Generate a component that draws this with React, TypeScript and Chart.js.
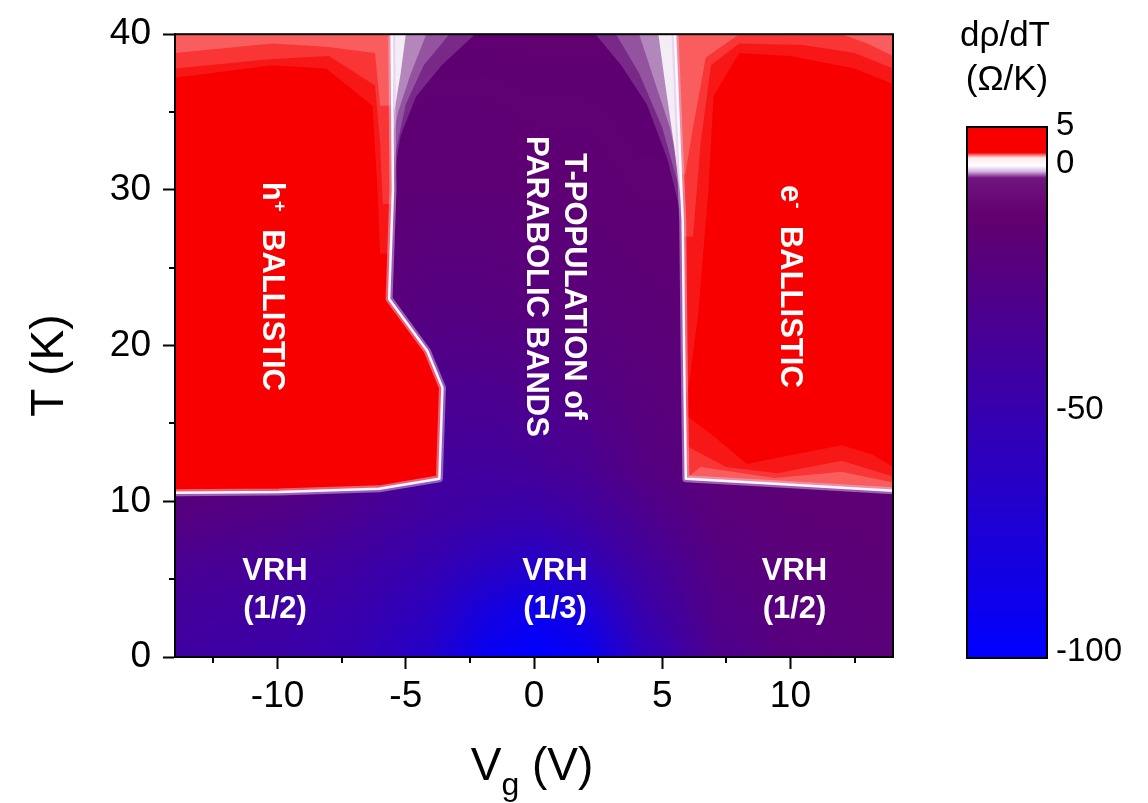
import React, { useEffect, useRef } from 'react';
import { Chart, registerables } from 'chart.js';

Chart.register(...registerables);

const FONT = "'Liberation Sans', Arial, Helvetica, sans-serif";

// ---------- axes ----------
const vgMin = -14;
const vgMax = 14;
const tMin = 0;
const tMax = 40;
const xMajorTicks = [-10, -5, 0, 5, 10];
const xMinorTicks = [-12.5, -7.5, -2.5, 2.5, 7.5, 12.5];
const yMajorTicks = [0, 10, 20, 30, 40];
const yMinorTicks = [5, 15, 25, 35];

// ---------- colour scale (dρ/dT, Ω/K) ----------
const colorbarTicks = [5, 0, -50, -100];
const cmapValues = [5, 1.7, 1.0, 0, -1.2, -2.5, -10, -100];
const cmapColors = [
  [248, 0, 0], [248, 0, 0], [255, 232, 238], [255, 255, 255],
  [214, 178, 226], [112, 20, 128], [98, 0, 110], [0, 0, 255],
];

// ---------- background dρ/dT field (negative region) ----------
const vgNodes = [-14, -10, -7, -4, -2, 0, 2, 4, 7, 10, 14];
const tNodes = [0, 3, 6, 9, 12, 16, 22, 30, 40];
const dRhoDT = [
  [-42, -45, -52, -68, -92, -100, -94, -62, -30, -20, -17],
  [-38, -42, -48, -60, -78, -90, -78, -50, -26, -19, -16],
  [-32, -36, -42, -51, -60, -66, -56, -41, -23, -17, -15],
  [-22, -26, -34, -42, -46, -48, -42, -32, -19, -15, -14],
  [-16, -18, -26, -38, -40, -38, -33, -24, -16, -14, -14],
  [-14, -15, -20, -32, -33, -30, -26, -20, -15, -14, -14],
  [-13, -13, -16, -22, -22, -20, -18, -16, -14, -13, -13],
  [-12, -12, -13, -15, -15, -14, -14, -13, -13, -12, -12],
  [-12, -12, -12, -12, -12, -12, -12, -12, -12, -12, -12],
];

// ---------- positive (ballistic) regions, [Vg, T] ----------
const leftBallistic = [[-14, 40], [-5.55, 40], [-5.5, 30], [-5.65, 23], [-4.16, 19.65], [-3.57, 17.3], [-3.69, 11.45], [-6.04, 10.8], [-9.96, 10.6], [-14, 10.55]];
const rightBallistic = [[5.5, 40], [14, 40], [14, 10.68], [9.37, 11.13], [5.92, 11.45], [5.85, 20], [5.8, 28], [5.65, 34]];
const leftBoundary = [[-5.55, 40], [-5.5, 30], [-5.65, 23], [-4.16, 19.65], [-3.57, 17.3], [-3.69, 11.45], [-6.04, 10.8], [-9.96, 10.6], [-14, 10.55]];
const rightBoundary = [[5.5, 40], [5.65, 34], [5.8, 28], [5.85, 20], [5.92, 11.45], [9.37, 11.13], [14, 10.68]];

// near-zero contour levels on the negative side (top centre)
const fadeLeft = [
  [[-5.55, 40], [-2.3, 40], [-3.6, 38], [-4.6, 36], [-5.2, 33.5], [-5.5, 30.5]],
  [[-5.55, 40], [-3.3, 40], [-4.3, 38], [-5.0, 35.5], [-5.45, 32]],
  [[-5.55, 40], [-4.2, 40], [-4.8, 37.5], [-5.3, 35], [-5.5, 33.5]],
  [[-5.55, 40], [-5.0, 40], [-5.2, 37.5], [-5.45, 35]],
];
const fadeRight = [
  [[2.4, 40], [5.5, 40], [5.65, 34], [5.8, 28], [5.2, 32], [4.4, 35.5], [3.4, 38]],
  [[3.2, 40], [5.5, 40], [5.65, 34], [5.77, 29.5], [5.0, 34], [4.1, 37.5]],
  [[4.1, 40], [5.5, 40], [5.65, 34], [5.76, 30.5], [5.3, 34], [4.7, 37]],
  [[4.85, 40], [5.5, 40], [5.65, 34], [5.79, 28.5], [5.45, 33], [5.1, 37]],
];

// lower positive contour levels inside the red regions
const bandsLeft = [
  [[-14, 40], [-5.55, 40], [-5.5, 30], [-5.6, 25.9], [-6.0, 25.9], [-6.1, 30], [-6.3, 35.4], [-8.1, 37.8], [-10.2, 38.0], [-14, 37.2]],
  [[-14, 40], [-5.55, 40], [-5.5, 29.1], [-5.9, 29.1], [-6.0, 33], [-6.2, 36.7], [-8.0, 38.6], [-10.2, 38.4], [-14, 37.8]],
  [[-14, 40], [-5.55, 40], [-5.52, 35.4], [-6.0, 35.4], [-6.2, 38.8], [-8.1, 39.2], [-10.2, 39.4], [-14, 38.8]],
];
const bandsRight = [
  [[5.5, 40], [14, 40], [14, 36.8], [12.5, 37.8], [10, 38.6], [8, 38.8], [7.0, 36], [6.8, 30], [6.4, 22], [6.0, 17], [5.87, 17], [5.85, 20], [5.8, 28], [5.65, 34]],
  [[5.5, 40], [14, 40], [14, 37.8], [12.5, 38.8], [10.5, 39.3], [8, 39.4], [6.9, 38], [6.5, 33], [6.2, 27], [5.82, 27], [5.65, 34]],
  [[5.5, 40], [8, 40], [6.7, 38.5], [6.2, 34], [5.9, 31], [5.75, 31], [5.65, 34]],
  [[5.92, 11.45], [5.95, 15.5], [7.0, 14.2], [8.3, 12.4], [9.5, 12.8], [12, 13.6], [13.2, 13.0], [14, 12.2], [14, 10.68], [9.37, 11.13]],
  [[5.92, 11.45], [6.0, 13.5], [7.5, 12.2], [9.5, 11.8], [12, 12.6], [14, 11.6], [14, 10.68], [9.37, 11.13]],
  [[5.92, 11.45], [6.5, 12.2], [9.4, 11.5], [12, 11.9], [14, 11.2], [14, 10.68], [9.37, 11.13]],
  [[12, 40], [14, 40], [14, 38.6], [13, 39.4]],
];

// ---------- annotations ----------
const regionLabels = [
  { vg: -10.15, t: 23.8, lines: [[['h', 0], ['+', 1], ['  BALLISTIC', 0]]] },
  { vg: 0.9, t: 23.8, lines: [[['T-POPULATION of', 0]], [['PARABOLIC BANDS', 0]]] },
  { vg: 10.05, t: 23.8, lines: [[['e', 0], ['-', 1], ['  BALLISTIC', 0]]] },
];
const vrhLabels = [
  { vg: -10.1, lines: ['VRH', '(1/2)'] },
  { vg: 0.82, lines: ['VRH', '(1/3)'] },
  { vg: 10.16, lines: ['VRH', '(1/2)'] },
];
const vrhRowsT = [5.5, 3.05];

// ---------- helpers ----------
function cmap(v: number): number[] {
  if (v >= cmapValues[0]) return cmapColors[0];
  for (let i = 0; i < cmapValues.length - 1; i++) {
    const a = cmapValues[i];
    const b = cmapValues[i + 1];
    if (v <= a && v >= b) {
      const f = (a - v) / (a - b);
      const c0 = cmapColors[i];
      const c1 = cmapColors[i + 1];
      return [c0[0] + (c1[0] - c0[0]) * f, c0[1] + (c1[1] - c0[1]) * f, c0[2] + (c1[2] - c0[2]) * f];
    }
  }
  return cmapColors[cmapColors.length - 1];
}

const LUT_MIN = -100;
const LUT_STEP = 0.05;
const LUT: number[][] = [];
for (let v = LUT_MIN; v <= 5.0001; v += LUT_STEP) LUT.push(cmap(v));
function lut(v: number) {
  let k = Math.round((v - LUT_MIN) / LUT_STEP);
  if (k < 0) k = 0;
  if (k >= LUT.length) k = LUT.length - 1;
  return LUT[k];
}

const clamp = (v: number, a: number, b: number) => Math.max(a, Math.min(b, v));
const pts = (arr: number[][]) => arr.map(([x, y]) => ({ x, y }));

// colour bar geometry: 5..0 occupies the top slice, 0..-100 the rest
const CB_POS_FRAC = 39 / 537;
function cbFrac(v: number) {
  if (v >= 0) return ((5 - v) / 5) * CB_POS_FRAC;
  return CB_POS_FRAC + (-v / 100) * (1 - CB_POS_FRAC);
}
function cbValue(f: number) {
  if (f <= CB_POS_FRAC) return 5 - (5 * f) / CB_POS_FRAC;
  return -((f - CB_POS_FRAC) / (1 - CB_POS_FRAC)) * 100;
}

const fieldPlugin = {
  id: 'field',
  beforeDatasetsDraw(chart: any) {
    const { ctx, chartArea: a, scales } = chart;
    const xs = scales.x;
    const ys = scales.y;
    const w = Math.round(a.right - a.left);
    const h = Math.round(a.bottom - a.top);
    const off = document.createElement('canvas');
    off.width = w;
    off.height = h;
    const octx = off.getContext('2d')!;
    const img = octx.createImageData(w, h);
    const colIdx = new Int32Array(w);
    const colW = new Float32Array(w);
    for (let px = 0; px < w; px++) {
      const v = xs.getValueForPixel(a.left + px + 0.5);
      let i = 0;
      while (i < vgNodes.length - 2 && v > vgNodes[i + 1]) i++;
      colIdx[px] = i;
      colW[px] = clamp((v - vgNodes[i]) / (vgNodes[i + 1] - vgNodes[i]), 0, 1);
    }
    for (let py = 0; py < h; py++) {
      const t = ys.getValueForPixel(a.top + py + 0.5);
      let j = 0;
      while (j < tNodes.length - 2 && t > tNodes[j + 1]) j++;
      const wy = clamp((t - tNodes[j]) / (tNodes[j + 1] - tNodes[j]), 0, 1);
      const r0 = dRhoDT[j];
      const r1 = dRhoDT[j + 1];
      for (let px = 0; px < w; px++) {
        const i = colIdx[px];
        const wx = colW[px];
        const v0 = r0[i] + (r0[i + 1] - r0[i]) * wx;
        const v1 = r1[i] + (r1[i + 1] - r1[i]) * wx;
        const c = lut(v0 + (v1 - v0) * wy);
        const k = (py * w + px) * 4;
        img.data[k] = c[0];
        img.data[k + 1] = c[1];
        img.data[k + 2] = c[2];
        img.data[k + 3] = 255;
      }
    }
    octx.putImageData(img, 0, 0);
    ctx.drawImage(off, a.left, a.top);
  },
};

function drawRun(ctx: CanvasRenderingContext2D, parts: any[], size: number, cy: number) {
  const supSize = Math.round(size * 0.62);
  let total = 0;
  const widths = parts.map(([text, sup]: any) => {
    ctx.font = `bold ${sup ? supSize : size}px ${FONT}`;
    const w = ctx.measureText(text).width;
    total += w;
    return w;
  });
  let x = -total / 2;
  const base = cy + size * 0.36;
  parts.forEach(([text, sup]: any, i: number) => {
    ctx.font = `bold ${sup ? supSize : size}px ${FONT}`;
    ctx.fillText(text, x, sup ? base - size * 0.36 : base);
    x += widths[i];
  });
}

const decorPlugin = {
  id: 'decor',
  afterDatasetsDraw(chart: any) {
    const { ctx, chartArea: a, scales } = chart;
    const xs = scales.x;
    const ys = scales.y;
    ctx.save();
    ctx.globalAlpha = 1;

    // frame
    ctx.strokeStyle = '#000';
    ctx.lineWidth = 2;
    ctx.strokeRect(a.left, a.top, a.right - a.left, a.bottom - a.top);

    // minor ticks
    ctx.beginPath();
    xMinorTicks.forEach((v) => {
      const px = Math.round(xs.getPixelForValue(v));
      ctx.moveTo(px, a.bottom);
      ctx.lineTo(px, a.bottom + 6);
    });
    yMinorTicks.forEach((v) => {
      const py = Math.round(ys.getPixelForValue(v));
      ctx.moveTo(a.left, py);
      ctx.lineTo(a.left - 6, py);
    });
    ctx.stroke();

    // region labels (rotated)
    ctx.fillStyle = '#fff';
    ctx.textAlign = 'left';
    ctx.textBaseline = 'alphabetic';
    regionLabels.forEach((lab) => {
      ctx.save();
      ctx.translate(xs.getPixelForValue(lab.vg), ys.getPixelForValue(lab.t));
      ctx.rotate(Math.PI / 2);
      const n = lab.lines.length;
      lab.lines.forEach((parts, li) => {
        drawRun(ctx, parts, 31, (li - (n - 1) / 2) * 38);
      });
      ctx.restore();
    });

    // VRH labels
    ctx.textAlign = 'center';
    ctx.textBaseline = 'middle';
    ctx.font = `bold 31px ${FONT}`;
    vrhLabels.forEach((lab) => {
      lab.lines.forEach((s, li) => {
        ctx.fillText(s, xs.getPixelForValue(lab.vg), ys.getPixelForValue(vrhRowsT[li]));
      });
    });

    // axis titles
    ctx.fillStyle = '#000';
    ctx.save();
    ctx.translate(50, (a.top + a.bottom) / 2 + 20);
    ctx.rotate(-Math.PI / 2);
    ctx.textAlign = 'center';
    ctx.textBaseline = 'middle';
    ctx.font = `46px ${FONT}`;
    ctx.fillText('T (K)', 0, 0);
    ctx.restore();

    {
      const big = `46px ${FONT}`;
      const small = `32px ${FONT}`;
      ctx.textAlign = 'left';
      ctx.textBaseline = 'alphabetic';
      ctx.font = big;
      const wV = ctx.measureText('V').width;
      const wR = ctx.measureText(' (V)').width;
      ctx.font = small;
      const wg = ctx.measureText('g').width;
      const total = wV + wg + wR;
      let x = (a.left + a.right) / 2 - 2 - total / 2;
      const base = a.bottom + 123;
      ctx.font = big;
      ctx.fillText('V', x, base);
      x += wV;
      ctx.font = small;
      ctx.fillText('g', x, base + 15);
      x += wg;
      ctx.font = big;
      ctx.fillText(' (V)', x, base);
    }

    // colour bar (pixel image through the same colour map)
    const cbL = Math.round(a.right + 74);
    const cbW = 80;
    const cbT = Math.round(a.top + 93);
    const cbB = Math.round(a.bottom + 1);
    const cbH = cbB - cbT;
    const cb = document.createElement('canvas');
    cb.width = cbW;
    cb.height = cbH;
    const cbx = cb.getContext('2d')!;
    const cbImg = cbx.createImageData(cbW, cbH);
    for (let py = 0; py < cbH; py++) {
      const c = cmap(cbValue((py + 0.5) / cbH));
      for (let px = 0; px < cbW; px++) {
        const k = (py * cbW + px) * 4;
        cbImg.data[k] = c[0];
        cbImg.data[k + 1] = c[1];
        cbImg.data[k + 2] = c[2];
        cbImg.data[k + 3] = 255;
      }
    }
    cbx.putImageData(cbImg, 0, 0);
    ctx.drawImage(cb, cbL, cbT);
    ctx.strokeStyle = '#000';
    ctx.lineWidth = 2;
    ctx.strokeRect(cbL, cbT, cbW, cbH);
    ctx.fillStyle = '#000';
    ctx.font = `33px ${FONT}`;
    ctx.textAlign = 'left';
    ctx.textBaseline = 'middle';
    colorbarTicks.forEach((v) => {
      const py = cbT + cbFrac(v) * cbH;
      ctx.fillText(String(v), cbL + cbW + 9, Math.min(Math.max(py, cbT + 1), cbB - 4) - 2);
    });
    ctx.textAlign = 'center';
    ctx.font = `35px ${FONT}`;
    ctx.fillText('dρ/dT', cbL + cbW / 2 - 2, 36);
    ctx.fillText('(Ω/K)', cbL + cbW / 2, 80);

    ctx.restore();
  },
};

export default function App() {
  const ref = useRef<HTMLCanvasElement | null>(null);

  useEffect(() => {
    const canvas = ref.current;
    if (!canvas) return;

    const layers: any[] = [];
    const poly = (arr: number[][], color: string) =>
      layers.push({ data: pts(arr), fill: 'shape', backgroundColor: color, borderColor: 'transparent', borderWidth: 0, pointRadius: 0, tension: 0 });
    const line = (arr: number[][], color: string, width: number) =>
      layers.push({ data: pts(arr), fill: false, borderColor: color, borderWidth: width, pointRadius: 0, tension: 0, borderJoinStyle: 'round', borderCapStyle: 'round' });

    const fadeAlphas = [0.16, 0.2, 0.3, 0.85];
    fadeLeft.forEach((p, i) => poly(p, `rgba(255,255,255,${fadeAlphas[i]})`));
    fadeRight.forEach((p, i) => poly(p, `rgba(255,255,255,${fadeAlphas[i]})`));
    poly(leftBallistic, 'rgb(248,0,0)');
    poly(rightBallistic, 'rgb(248,0,0)');
    const bandAlphas = [0.09, 0.13, 0.2];
    bandsLeft.forEach((p, i) => poly(p, `rgba(255,255,255,${bandAlphas[i % 3]})`));
    bandsRight.forEach((p, i) => poly(p, `rgba(255,255,255,${bandAlphas[i === 6 ? 2 : i % 3]})`));
    line(leftBoundary, 'rgba(225,190,238,0.5)', 7);
    line(rightBoundary, 'rgba(225,190,238,0.5)', 7);
    line(leftBoundary, 'rgba(255,255,255,0.95)', 2.5);
    line(rightBoundary, 'rgba(255,255,255,0.95)', 2.5);
    const n = layers.length;
    layers.forEach((d, i) => (d.order = n - i));

    const tickFont = { family: FONT, size: 37 };
    const chart = new Chart(canvas, {
      type: 'line',
      data: { datasets: layers },
      plugins: [fieldPlugin, decorPlugin],
      options: {
        animation: false,
        responsive: false,
        events: [],
        layout: { padding: { left: 0, top: 28, right: 255, bottom: 0 } },
        elements: { point: { radius: 0 } },
        plugins: { legend: { display: false }, tooltip: { enabled: false }, title: { display: false } },
        scales: {
          x: {
            type: 'linear',
            min: vgMin,
            max: vgMax,
            afterBuildTicks: (s: any) => { s.ticks = xMajorTicks.map((v) => ({ value: v })); },
            afterFit: (s: any) => { s.height = 146; },
            ticks: { font: tickFont, color: '#000', padding: 6, maxRotation: 0, autoSkip: false, callback: (v: any) => String(v) },
            grid: { drawOnChartArea: false, drawTicks: true, tickLength: 12, tickWidth: 2, tickColor: '#000' },
            border: { display: true, color: '#000', width: 2 },
          },
          y: {
            type: 'linear',
            min: tMin,
            max: tMax,
            afterBuildTicks: (s: any) => { s.ticks = yMajorTicks.map((v) => ({ value: v })); },
            afterFit: (s: any) => { s.width = 175; },
            ticks: { font: tickFont, color: '#000', padding: 12, autoSkip: false, callback: (v: any) => String(v) },
            grid: { drawOnChartArea: false, drawTicks: true, tickLength: 12, tickWidth: 2, tickColor: '#000' },
            border: { display: true, color: '#000', width: 2 },
          },
        },
      } as any,
    });
    return () => chart.destroy();
  }, []);

  return (
    <div style={{ position: 'absolute', left: 0, top: 0, width: 1148, height: 803, background: '#fff' }}>
      <canvas ref={ref} width={1148} height={803} style={{ display: 'block', width: 1148, height: 803 }} />
    </div>
  );
}
